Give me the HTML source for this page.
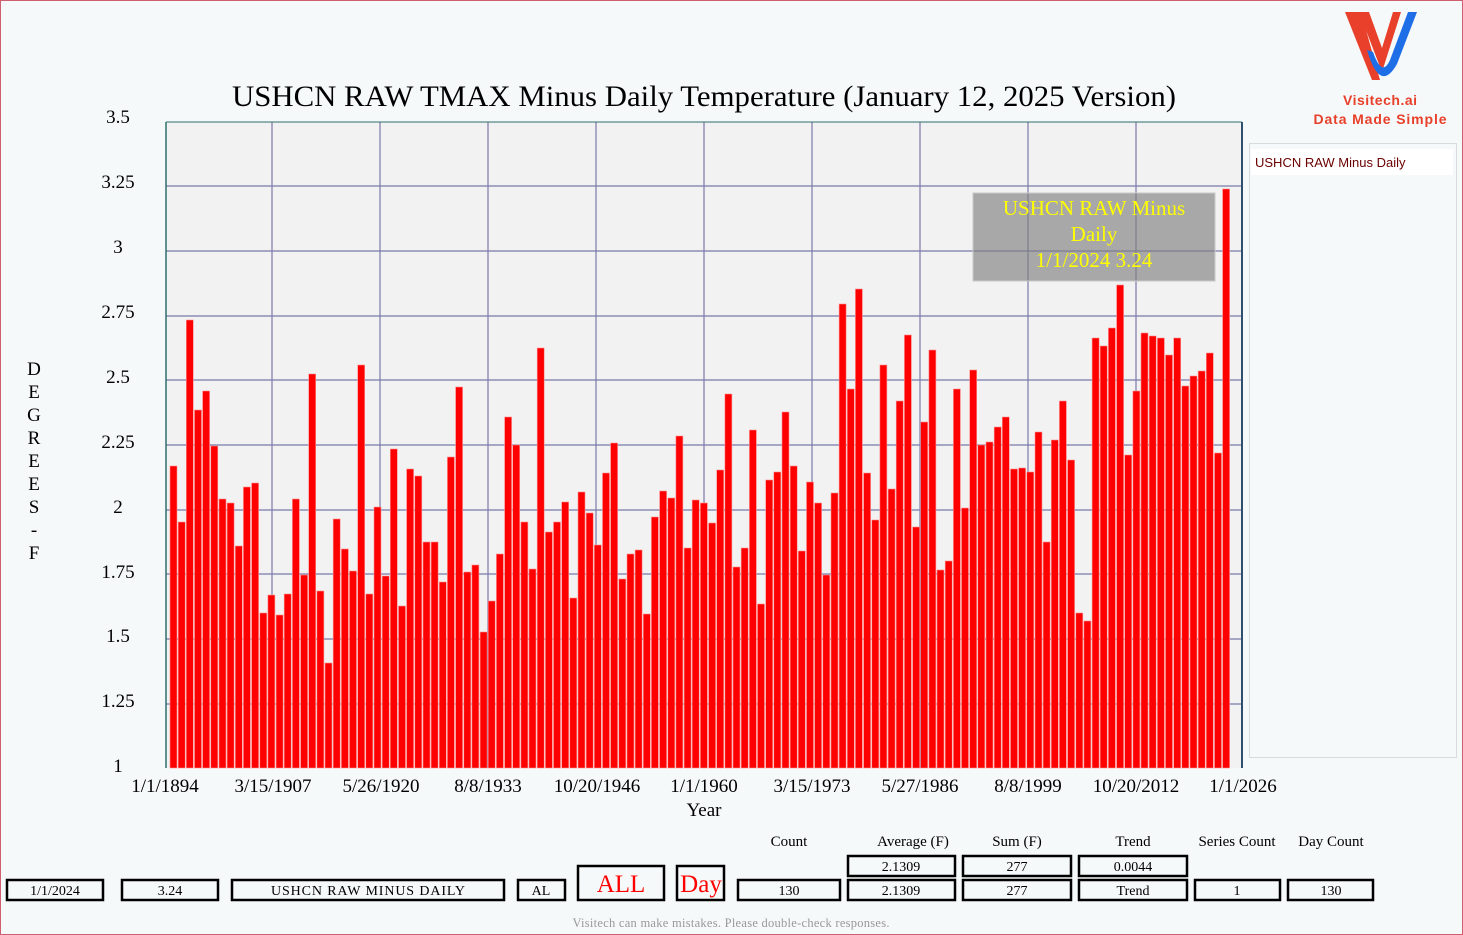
<!DOCTYPE html>
<html><head><meta charset="utf-8"><style>
html,body{margin:0;padding:0;background:#f5f9f9;}
svg{display:block;font-family:"Liberation Serif",serif;}
</style></head><body>
<svg width="1463" height="935" viewBox="0 0 1463 935" xmlns="http://www.w3.org/2000/svg">
<rect x="0.5" y="0.5" width="1462" height="934" fill="#f5f9f9" stroke="#d06070"/>
<!-- logo -->
<path d="M1345 12 L1372 80 L1380 80 L1361 12 Z" fill="#e8402a"/>
<path d="M1359 12 L1382 72 L1401 12 L1393 12 L1382 48 L1369 12 Z" fill="#e8402a"/>
<path d="M1367 50 Q1380 94 1397 64 L1417 12 L1408 12 L1390 60 Q1382 78 1373 52 Z" fill="#1e6ee8"/>
<text x="1380" y="105" text-anchor="middle" font-family="Liberation Sans,sans-serif" font-size="14" font-weight="bold" fill="#e8402a" textLength="74">Visitech.ai</text>
<text x="1380" y="124" text-anchor="middle" font-family="Liberation Sans,sans-serif" font-size="14" font-weight="bold" fill="#e8402a" textLength="133">Data Made Simple</text>
<!-- title -->
<text x="704" y="106" text-anchor="middle" font-size="30" textLength="944" lengthAdjust="spacingAndGlyphs">USHCN RAW TMAX Minus Daily Temperature (January 12, 2025 Version)</text>
<!-- plot -->
<rect x="166" y="122" width="1076" height="646" fill="#f2f2f2"/>
<g stroke="#7a7aaa" stroke-width="1.2">
<line x1="166" x2="1242" y1="186" y2="186"/><line x1="166" x2="1242" y1="251" y2="251"/><line x1="166" x2="1242" y1="316" y2="316"/><line x1="166" x2="1242" y1="380" y2="380"/><line x1="166" x2="1242" y1="445" y2="445"/><line x1="166" x2="1242" y1="510" y2="510"/><line x1="166" x2="1242" y1="574" y2="574"/><line x1="166" x2="1242" y1="639" y2="639"/><line x1="166" x2="1242" y1="704" y2="704"/>
<line y1="122" y2="768" x1="272" x2="272"/><line y1="122" y2="768" x1="380" x2="380"/><line y1="122" y2="768" x1="488" x2="488"/><line y1="122" y2="768" x1="596" x2="596"/><line y1="122" y2="768" x1="704" x2="704"/><line y1="122" y2="768" x1="812" x2="812"/><line y1="122" y2="768" x1="920" x2="920"/><line y1="122" y2="768" x1="1028" x2="1028"/><line y1="122" y2="768" x1="1136" x2="1136"/>
</g>
<line x1="166" x2="1242" y1="122" y2="122" stroke="#2f6f6f"/>
<line x1="166" x2="166" y1="122" y2="768" stroke="#2f6f6f" stroke-width="1.5"/>
<line x1="1242" x2="1242" y1="122" y2="768" stroke="#2f4f6f" stroke-width="2"/>
<g fill="#ff0000" stroke="#ff9090" stroke-width="0.6">
<rect x="170" y="466" width="7" height="302"/><rect x="178.2" y="522" width="7" height="246"/><rect x="186.3" y="320" width="7" height="448"/><rect x="194.5" y="410" width="7" height="358"/><rect x="202.6" y="391" width="7" height="377"/><rect x="210.8" y="446" width="7" height="322"/><rect x="219" y="499" width="7" height="269"/><rect x="227.1" y="503" width="7" height="265"/><rect x="235.3" y="546" width="7" height="222"/><rect x="243.4" y="487" width="7" height="281"/>
<rect x="251.6" y="483" width="7" height="285"/><rect x="259.8" y="613" width="7" height="155"/><rect x="267.9" y="595" width="7" height="173"/><rect x="276.1" y="615" width="7" height="153"/><rect x="284.2" y="594" width="7" height="174"/><rect x="292.4" y="499" width="7" height="269"/><rect x="300.6" y="575" width="7" height="193"/><rect x="308.7" y="374" width="7" height="394"/><rect x="316.9" y="591" width="7" height="177"/><rect x="325" y="663" width="7" height="105"/>
<rect x="333.2" y="519" width="7" height="249"/><rect x="341.4" y="549" width="7" height="219"/><rect x="349.5" y="571" width="7" height="197"/><rect x="357.7" y="365" width="7" height="403"/><rect x="365.8" y="594" width="7" height="174"/><rect x="374" y="507" width="7" height="261"/><rect x="382.2" y="576" width="7" height="192"/><rect x="390.3" y="449" width="7" height="319"/><rect x="398.5" y="606" width="7" height="162"/><rect x="406.6" y="469" width="7" height="299"/>
<rect x="414.8" y="476" width="7" height="292"/><rect x="423" y="542" width="7" height="226"/><rect x="431.1" y="542" width="7" height="226"/><rect x="439.3" y="582" width="7" height="186"/><rect x="447.4" y="457" width="7" height="311"/><rect x="455.6" y="387" width="7" height="381"/><rect x="463.8" y="572" width="7" height="196"/><rect x="471.9" y="565" width="7" height="203"/><rect x="480.1" y="632" width="7" height="136"/><rect x="488.2" y="601" width="7" height="167"/>
<rect x="496.4" y="554" width="7" height="214"/><rect x="504.6" y="417" width="7" height="351"/><rect x="512.7" y="445" width="7" height="323"/><rect x="520.9" y="522" width="7" height="246"/><rect x="529" y="569" width="7" height="199"/><rect x="537.2" y="348" width="7" height="420"/><rect x="545.4" y="532" width="7" height="236"/><rect x="553.5" y="522" width="7" height="246"/><rect x="561.7" y="502" width="7" height="266"/><rect x="569.8" y="598" width="7" height="170"/>
<rect x="578" y="492" width="7" height="276"/><rect x="586.2" y="513" width="7" height="255"/><rect x="594.3" y="545" width="7" height="223"/><rect x="602.5" y="473" width="7" height="295"/><rect x="610.6" y="443" width="7" height="325"/><rect x="618.8" y="579" width="7" height="189"/><rect x="627" y="554" width="7" height="214"/><rect x="635.1" y="550" width="7" height="218"/><rect x="643.3" y="614" width="7" height="154"/><rect x="651.4" y="517" width="7" height="251"/>
<rect x="659.6" y="491" width="7" height="277"/><rect x="667.8" y="498" width="7" height="270"/><rect x="675.9" y="436" width="7" height="332"/><rect x="684.1" y="548" width="7" height="220"/><rect x="692.2" y="500" width="7" height="268"/><rect x="700.4" y="503" width="7" height="265"/><rect x="708.6" y="523" width="7" height="245"/><rect x="716.7" y="470" width="7" height="298"/><rect x="724.9" y="394" width="7" height="374"/><rect x="733" y="567" width="7" height="201"/>
<rect x="741.2" y="548" width="7" height="220"/><rect x="749.4" y="430" width="7" height="338"/><rect x="757.5" y="604" width="7" height="164"/><rect x="765.7" y="480" width="7" height="288"/><rect x="773.8" y="472" width="7" height="296"/><rect x="782" y="412" width="7" height="356"/><rect x="790.2" y="466" width="7" height="302"/><rect x="798.3" y="551" width="7" height="217"/><rect x="806.5" y="482" width="7" height="286"/><rect x="814.6" y="503" width="7" height="265"/>
<rect x="822.8" y="575" width="7" height="193"/><rect x="831" y="493" width="7" height="275"/><rect x="839.1" y="304" width="7" height="464"/><rect x="847.3" y="389" width="7" height="379"/><rect x="855.4" y="289" width="7" height="479"/><rect x="863.6" y="473" width="7" height="295"/><rect x="871.8" y="520" width="7" height="248"/><rect x="879.9" y="365" width="7" height="403"/><rect x="888.1" y="489" width="7" height="279"/><rect x="896.2" y="401" width="7" height="367"/>
<rect x="904.4" y="335" width="7" height="433"/><rect x="912.6" y="527" width="7" height="241"/><rect x="920.7" y="422" width="7" height="346"/><rect x="928.9" y="350" width="7" height="418"/><rect x="937" y="570" width="7" height="198"/><rect x="945.2" y="561" width="7" height="207"/><rect x="953.4" y="389" width="7" height="379"/><rect x="961.5" y="508" width="7" height="260"/><rect x="969.7" y="370" width="7" height="398"/><rect x="977.8" y="445" width="7" height="323"/>
<rect x="986" y="442" width="7" height="326"/><rect x="994.2" y="427" width="7" height="341"/><rect x="1002.3" y="417" width="7" height="351"/><rect x="1010.5" y="469" width="7" height="299"/><rect x="1018.6" y="468" width="7" height="300"/><rect x="1026.8" y="472" width="7" height="296"/><rect x="1035" y="432" width="7" height="336"/><rect x="1043.1" y="542" width="7" height="226"/><rect x="1051.3" y="440" width="7" height="328"/><rect x="1059.4" y="401" width="7" height="367"/>
<rect x="1067.6" y="460" width="7" height="308"/><rect x="1075.8" y="613" width="7" height="155"/><rect x="1083.9" y="621" width="7" height="147"/><rect x="1092.1" y="338" width="7" height="430"/><rect x="1100.2" y="346" width="7" height="422"/><rect x="1108.4" y="328" width="7" height="440"/><rect x="1116.6" y="285" width="7" height="483"/><rect x="1124.7" y="455" width="7" height="313"/><rect x="1132.9" y="391" width="7" height="377"/><rect x="1141" y="333" width="7" height="435"/>
<rect x="1149.2" y="336" width="7" height="432"/><rect x="1157.4" y="338" width="7" height="430"/><rect x="1165.5" y="355" width="7" height="413"/><rect x="1173.7" y="338" width="7" height="430"/><rect x="1181.8" y="386" width="7" height="382"/><rect x="1190" y="376" width="7" height="392"/><rect x="1198.2" y="371" width="7" height="397"/><rect x="1206.3" y="353" width="7" height="415"/><rect x="1214.5" y="453" width="7" height="315"/><rect x="1222.6" y="189" width="7" height="579"/>
</g>
<!-- tooltip -->
<rect x="973" y="193" width="242" height="88" fill="#808080" fill-opacity="0.65" stroke="#c8c8c8"/>
<g fill="#ffff00" font-size="21" text-anchor="middle">
<text x="1094" y="215">USHCN RAW Minus</text><text x="1094" y="241">Daily</text><text x="1094" y="267">1/1/2024 3.24</text>
</g>
<!-- y labels -->
<g font-size="19" text-anchor="middle">
<text x="118" y="123">3.5</text><text x="118" y="188">3.25</text><text x="118" y="253">3</text><text x="118" y="318">2.75</text><text x="118" y="383">2.5</text><text x="118" y="448">2.25</text><text x="118" y="513">2</text><text x="118" y="578">1.75</text><text x="118" y="642">1.5</text><text x="118" y="707">1.25</text><text x="118" y="772">1</text>
</g>
<g font-size="19" text-anchor="middle">
<text x="34" y="375">D</text><text x="34" y="398">E</text><text x="34" y="421">G</text><text x="34" y="444">R</text><text x="34" y="467">E</text><text x="34" y="490">E</text><text x="34" y="513">S</text><text x="34" y="536">-</text><text x="34" y="559">F</text>
</g>
<g font-size="19" text-anchor="middle">
<text x="165" y="792">1/1/1894</text><text x="273" y="792">3/15/1907</text><text x="381" y="792">5/26/1920</text><text x="488" y="792">8/8/1933</text><text x="597" y="792">10/20/1946</text><text x="704" y="792">1/1/1960</text><text x="812" y="792">3/15/1973</text><text x="920" y="792">5/27/1986</text><text x="1028" y="792">8/8/1999</text><text x="1136" y="792">10/20/2012</text><text x="1243" y="792">1/1/2026</text>
<text x="704" y="816">Year</text>
</g>
<!-- legend -->
<rect x="1249.5" y="143.5" width="207" height="614" fill="#f5f9f9" stroke="#d8dcdc"/>
<rect x="1251" y="149" width="202" height="26" fill="#fff"/>
<text x="1255" y="167" font-family="Liberation Sans,sans-serif" font-size="13" fill="#6a0000">USHCN RAW Minus Daily</text>
<!-- bottom table -->
<g font-size="15" text-anchor="middle">
<text x="789" y="846">Count</text><text x="913" y="846">Average (F)</text><text x="1017" y="846">Sum (F)</text><text x="1133" y="846">Trend</text><text x="1237" y="846">Series Count</text><text x="1331" y="846">Day Count</text>
</g>
<g fill="none" stroke="#000" stroke-width="2.5">
<rect x="7" y="880" width="96" height="20"/><rect x="122" y="880" width="96" height="20"/><rect x="232" y="880" width="272" height="20"/><rect x="518" y="880" width="47" height="20"/>
<rect x="578" y="866" width="86" height="34"/><rect x="677" y="866" width="47" height="34"/>
<rect x="738" y="880" width="102" height="20"/><rect x="848" y="880" width="107" height="20"/><rect x="963" y="880" width="108" height="20"/><rect x="1079" y="880" width="108" height="20"/><rect x="1195" y="880" width="85" height="20"/><rect x="1288" y="880" width="85" height="20"/>
<rect x="848" y="856" width="107" height="20"/><rect x="963" y="856" width="108" height="20"/><rect x="1079" y="856" width="108" height="20"/>
</g>
<g font-size="14" text-anchor="middle">
<text x="55" y="895">1/1/2024</text><text x="170" y="895">3.24</text><text x="368" y="895" textLength="194">USHCN RAW MINUS DAILY</text><text x="541" y="895">AL</text>
<text x="789" y="895">130</text><text x="901" y="895">2.1309</text><text x="1017" y="895">277</text><text x="1133" y="895">Trend</text><text x="1237" y="895">1</text><text x="1331" y="895">130</text>
<text x="901" y="871">2.1309</text><text x="1017" y="871">277</text><text x="1133" y="871">0.0044</text>
</g>
<text x="621" y="892" font-size="25" fill="#ff0000" text-anchor="middle">ALL</text>
<text x="701" y="892" font-size="25" fill="#ff0000" text-anchor="middle">Day</text>
<text x="731" y="927" font-size="12.5" fill="#999" text-anchor="middle" textLength="317">Visitech can make mistakes. Please double-check responses.</text>
</svg>
</body></html>
